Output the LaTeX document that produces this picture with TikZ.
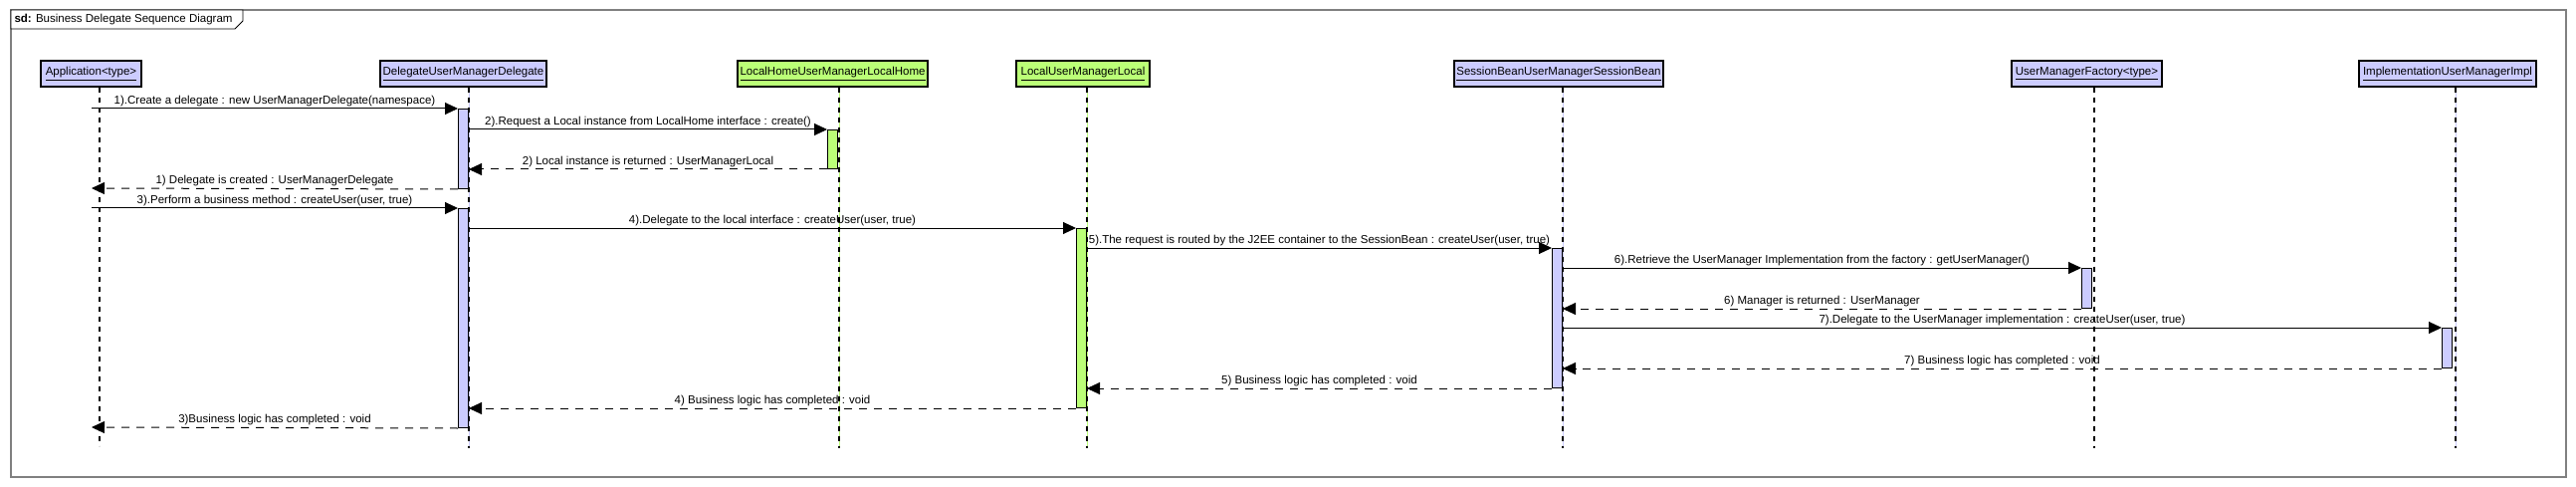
\documentclass[tikz,border=0pt]{standalone}
\usepackage{fontspec}
\setmainfont{Liberation Sans}
\usepackage{tikz}
\usetikzlibrary{arrows.meta,positioning,calc}
\definecolor{lav}{HTML}{CCCCFF}
\definecolor{ejb}{HTML}{BBFF77}
\definecolor{framegray}{HTML}{808080}

\begin{document}
\begin{tikzpicture}[
  x=1pt, y=-1pt,
  font=\fontsize{11.5}{13}\selectfont,
  head/.style={draw,line width=1.2pt,minimum height=26pt,inner xsep=2pt,inner ysep=0pt},
  hl/.style={head,fill=lav},
  hg/.style={head,fill=ejb},
  bar/.style={draw,line width=1pt,minimum width=10pt,inner sep=0pt,anchor=north east},
  bl/.style={bar,fill=lav},
  bg/.style={bar,fill=ejb},
  life/.style={dash pattern=on 5pt off 5pt,line width=1.1pt},
  lifel/.style={life,preaction={draw=lav,solid,line width=.8pt}},
  lifeg/.style={life,preaction={draw=ejb,solid,line width=.8pt}},
  call/.style={-{Triangle[length=13pt,width=12pt]},line width=1pt},
  ret/.style={call,dash pattern=on 8pt off 7pt},
  lbl/.style={above,inner sep=2pt}
]
\useasboundingbox (0,0) rectangle (2588,489);
% frame and title tab
\draw[framegray,line width=1.3pt] (11,10) rectangle (2578,479);
\draw[fill=white,line width=.8pt] (11,10) -- (244,10) -- (244,21) -- (236,29) -- (11,29) -- cycle;
\node[anchor=west] (title) at (11,19.5) {\textbf{sd:} Business Delegate Sequence Diagram};
% lifeline heads
\node[hl,minimum width=101pt] (app) at (91.5,74) {\underline{Application<type>}};
\node[hl,minimum width=167pt] (del) at (465.5,74) {\underline{DelegateUserManagerDelegate}};
\node[hg,minimum width=191pt] (home) at (836.5,74) {\underline{LocalHomeUserManagerLocalHome}};
\node[hg,minimum width=134pt] (loc) at (1088,74) {\underline{LocalUserManagerLocal}};
\node[hl,minimum width=210pt] (sess) at (1566,74) {\underline{SessionBeanUserManagerSessionBean}};
\node[hl,minimum width=151pt] (fact) at (2096.5,74) {\underline{UserManagerFactory<type>}};
\node[hl,minimum width=178pt] (impl) at (2459,74) {\underline{ImplementationUserManagerImpl}};
% lifelines
\draw[life] ([xshift=8.5pt]app.south) -- ++(0,360);
\draw[lifel] ([xshift=5.5pt]del.south) -- ++(0,362);
\draw[lifeg] ([xshift=6.5pt]home.south) -- ++(0,362);
\draw[lifeg] ([xshift=4pt]loc.south) -- ++(0,362);
\draw[lifel] ([xshift=4pt]sess.south) -- ++(0,362);
\draw[life] ([xshift=7.5pt]fact.south) -- ++(0,362);
\draw[lifel] ([xshift=8pt]impl.south) -- ++(0,362);
% activations
\node[bl,minimum height=80pt] (dA) at (471,109) {};
\node[bl,minimum height=220pt] (dB) at (471,209) {};
\node[bg,minimum height=39pt] (hA) at (842,130) {};
\node[bg,minimum height=180pt] (lA) at (1092,229) {};
\node[bl,minimum height=140pt] (sA) at (1570,249) {};
\node[bl,minimum height=40pt] (fA) at (2102,269) {};
\node[bl,minimum height=40pt] (iA) at (2464,329) {};
% free ends on the application side
\coordinate (a1) at (92,109);
\coordinate (a2) at (92,189);
\coordinate (a3) at (92,209);
\coordinate (a4) at (92,429);
% messages
\draw[call] (a1) -- (dA.north west) node[lbl,midway] {1).Create a delegate : new UserManagerDelegate(namespace)};
\draw[call] (hA.north west -| dA.east) -- (hA.north west) node[lbl,midway] {2).Request a Local instance from LocalHome interface : create()};
\draw[ret] (hA.south west) -- (hA.south west -| dA.east) node[lbl,midway] {2) Local instance is returned : UserManagerLocal};
\draw[ret] (dA.south west) -- (a2) node[lbl,midway] {1) Delegate is created : UserManagerDelegate};
\draw[call] (a3) -- (dB.north west) node[lbl,midway] {3).Perform a business method : createUser(user, true)};
\draw[call] (lA.north west -| dB.east) -- (lA.north west) node[lbl,midway] {4).Delegate to the local interface : createUser(user, true)};
\draw[call] (sA.north west -| lA.east) -- (sA.north west) node[lbl,midway] {5).The request is routed by the J2EE container to the SessionBean : createUser(user, true)};
\draw[call] (fA.north west -| sA.east) -- (fA.north west) node[lbl,midway] {6).Retrieve the UserManager Implementation from the factory : getUserManager()};
\draw[ret] (fA.south west) -- (fA.south west -| sA.east) node[lbl,midway] {6) Manager is returned : UserManager};
\draw[call] (iA.north west -| sA.east) -- (iA.north west) node[lbl,midway] {7).Delegate to the UserManager implementation : createUser(user, true)};
\draw[ret] (iA.south west) -- (iA.south west -| sA.east) node[lbl,midway] {7) Business logic has completed : void};
\draw[ret] (sA.south west) -- (sA.south west -| lA.east) node[lbl,midway] {5) Business logic has completed : void};
\draw[ret] (lA.south west) -- (lA.south west -| dB.east) node[lbl,midway] {4) Business logic has completed : void};
\draw[ret] (dB.south west) -- (a4) node[lbl,midway] {3)Business logic has completed : void};
\end{tikzpicture}
\end{document}
